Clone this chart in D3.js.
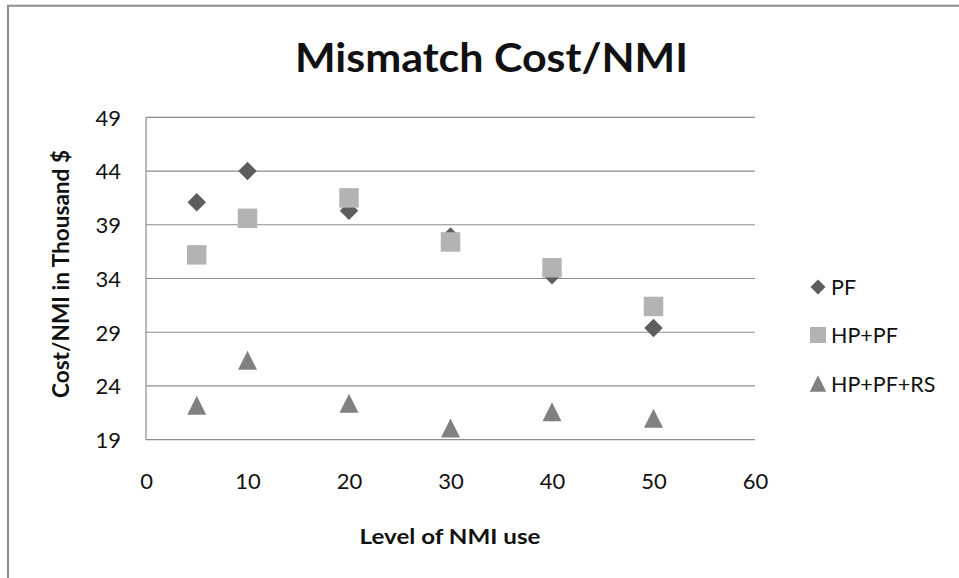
<!DOCTYPE html>
<html>
<head>
<meta charset="utf-8">
<script src="https://cdn.jsdelivr.net/npm/d3@7"></script>
<style>
  html, body { margin: 0; padding: 0; background: #fff; }
  svg { display: block; }
  text { font-family: Lato, "Open Sans", sans-serif; fill: #111; }
</style>
</head>
<body>
<svg id="chart" width="959" height="578"></svg>
<script>
// NMI usage levels and the cost per NMI (thousand $) for each policy
const levels = [5, 10, 20, 30, 40, 50];
const seriesNames = ["PF", "HP+PF", "HP+PF+RS"];
const pf = [41.1, 44.0, 40.3, 37.9, 34.3, 29.4];
const hpPf = [36.2, 39.6, 41.5, 37.4, 35.0, 31.4];
const hpPfRs = [22.2, 26.4, 22.4, 20.1, 21.6, 21.0];
const xTicks = [0, 10, 20, 30, 40, 50, 60];
const yTicks = [19, 24, 29, 34, 39, 44, 49];

const svg = d3.select("#chart");
const W = 959, H = 578;
const plot = { left: 146, right: 755, top: 117.3, bottom: 439.7 };

// outer chart frame (top and left edges)
svg.append("path")
  .attr("d", `M8,${H} L8,5.8 L${W},5.8`)
  .attr("fill", "none").attr("stroke", "#8c8c8c").attr("stroke-width", 2);

const x = d3.scaleLinear().domain([0, 60]).range([plot.left, plot.right]);
const y = d3.scaleLinear().domain([19, 49]).range([plot.bottom, plot.top]);

// horizontal gridlines
svg.append("g").selectAll("line").data(yTicks).join("line")
  .attr("x1", plot.left).attr("x2", plot.right)
  .attr("y1", d => y(d)).attr("y2", d => y(d))
  .attr("stroke", "#8c8c8c").attr("stroke-width", 1.2);

// vertical axis line
svg.append("line")
  .attr("x1", plot.left).attr("x2", plot.left)
  .attr("y1", plot.top).attr("y2", plot.bottom)
  .attr("stroke", "#8c8c8c").attr("stroke-width", 1.2);

// y axis labels
const yAxis = d3.axisLeft(y).tickValues(yTicks).tickSize(0).tickPadding(25);
svg.append("g").attr("transform", `translate(${plot.left},0)`).call(yAxis)
  .call(g => g.select(".domain").remove())
  .selectAll("text").style("font-size", "22px").attr("fill", "#151515")
  .attr("dy", "0.36em");

// x axis labels
const xAxis = d3.axisBottom(x).tickValues(xTicks).tickSize(0).tickPadding(34);
svg.append("g").attr("transform", `translate(0,${plot.bottom})`).call(xAxis)
  .call(g => g.select(".domain").remove())
  .selectAll("text").style("font-size", "22px").attr("fill", "#151515")
  .attr("dy", "0.71em");

// marker shapes
const diamond = {
  draw(ctx, size) {
    const r = Math.sqrt(size) / 2;
    ctx.moveTo(0, -r); ctx.lineTo(r, 0); ctx.lineTo(0, r); ctx.lineTo(-r, 0); ctx.closePath();
  }
};
const square = {
  draw(ctx, size) {
    const r = Math.sqrt(size) / 2;
    ctx.rect(-r, -r, 2 * r, 2 * r);
  }
};
const triangle = {
  draw(ctx, size) {
    const r = Math.sqrt(size) / 2;
    ctx.moveTo(0, -r); ctx.lineTo(r, r); ctx.lineTo(-r, r); ctx.closePath();
  }
};

const series = [
  { name: seriesNames[0], values: pf, shape: diamond, size: 18.5 * 18.5, color: "#5d5d5d", legendSize: 15 * 15 },
  { name: seriesNames[1], values: hpPf, shape: square, size: 19.5 * 19.5, color: "#b3b3b3", legendSize: 16 * 16 },
  { name: seriesNames[2], values: hpPfRs, shape: triangle, size: 19 * 19, color: "#818181", legendSize: 16.5 * 16.5 }
];

series.forEach(s => {
  const sym = d3.symbol().type(s.shape).size(s.size);
  svg.append("g").selectAll("path").data(levels.map((l, i) => [l, s.values[i]])).join("path")
    .attr("transform", d => `translate(${x(d[0])},${y(d[1])})`)
    .attr("d", sym())
    .attr("fill", s.color);
});

// legend
const legend = svg.append("g").attr("transform", "translate(818,0)");
const legendY = [287, 335, 383.5];
series.forEach((s, i) => {
  legend.append("path")
    .attr("transform", `translate(0,${legendY[i]})`)
    .attr("d", d3.symbol().type(s.shape).size(s.legendSize)())
    .attr("fill", s.color);
  legend.append("text")
    .attr("x", 13).attr("y", legendY[i] + 8)
    .style("font-size", "21.5px")
    .attr("fill", "#151515")
    .text(s.name);
});

// titles
svg.append("text")
  .attr("x", 491.5).attr("y", 72)
  .attr("text-anchor", "middle")
  .attr("textLength", 393).attr("lengthAdjust", "spacingAndGlyphs")
  .style("font-size", "40px").style("font-weight", "bold")
  .text("Mismatch Cost/NMI");

svg.append("text")
  .attr("x", 450).attr("y", 544)
  .attr("text-anchor", "middle")
  .attr("textLength", 181).attr("lengthAdjust", "spacingAndGlyphs")
  .style("font-size", "21px").style("font-weight", "bold")
  .text("Level of NMI use");

svg.append("text")
  .attr("transform", "translate(69,274) rotate(-90)")
  .attr("text-anchor", "middle")
  .attr("textLength", 248).attr("lengthAdjust", "spacingAndGlyphs")
  .style("font-size", "22px").style("font-weight", "bold")
  .text("Cost/NMI in Thousand $");
</script>
</body>
</html>
